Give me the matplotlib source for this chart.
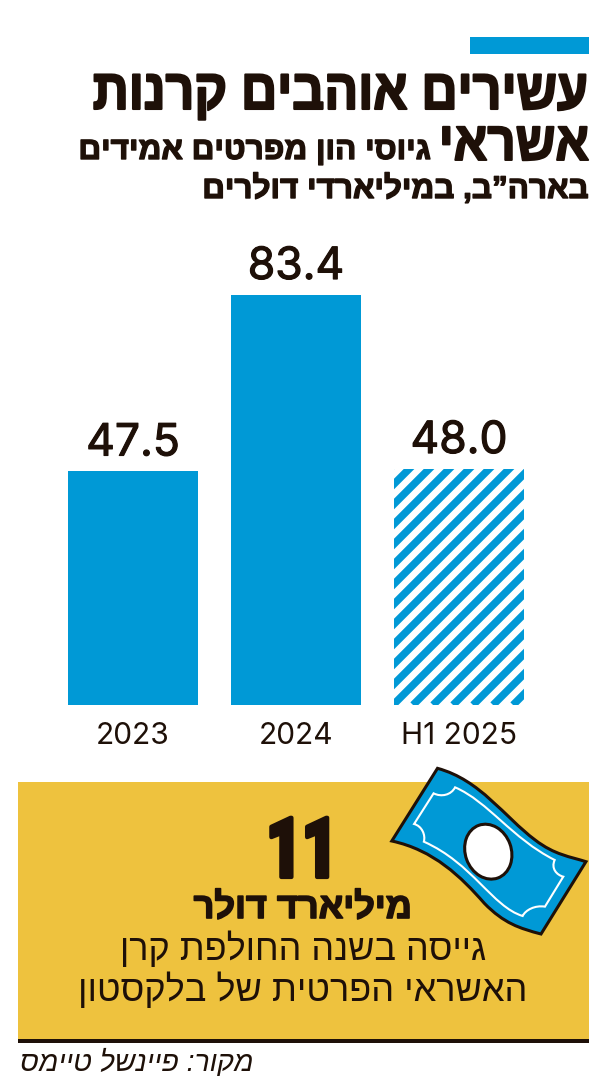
import matplotlib
matplotlib.use("Agg")
import numpy as np
import matplotlib.pyplot as plt
import matplotlib.patheffects as pe
from matplotlib.path import Path
from matplotlib.patches import PathPatch, Rectangle, Ellipse
from matplotlib.lines import Line2D
from matplotlib.transforms import IdentityTransform, Affine2D

categories = ["2023", "2024", "H1 2025"]
values = [47.5, 83.4, 48.0]
projected = [False, False, True]

title_1 = "עשירים אוהבים קרנות"
title_2 = "אשראי"
subtitle_1 = "גיוסי הון מפרטים אמידים"
subtitle_2 = "בארה”ב, במיליארדי דולרים"
big_number = "11"
big_unit = "מיליארד דולר"
note_1 = "גייסה בשנה החולפת קרן"
note_2 = "האשראי הפרטית של בלקסטון"
source = "מקור: פיינשל טיימס"

BLUE = "#0099D6"
YELLOW = "#EEC23E"
DARK = "#1E1008"
HEB = ["Liberation Sans", "DejaVu Sans"]
W, H = 613, 1089

fig = plt.figure(figsize=(W / 100, H / 100), dpi=100, facecolor="white")
px = fig.add_axes([0, 0, 1, 1])
px.set_xlim(0, W)
px.set_ylim(H, 0)
px.axis("off")


class Squeeze(pe.AbstractPathEffect):
    """Narrow glyphs horizontally about a pixel column and thicken them."""

    def __init__(self, cx, sx, lw):
        super().__init__()
        self.cx, self.sx, self.lw = cx, sx, lw

    def draw_path(self, renderer, gc, tpath, affine, rgbFace=None):
        a = affine + Affine2D().translate(-self.cx, 0).scale(self.sx, 1).translate(self.cx, 0)
        g = renderer.new_gc()
        g.copy_properties(gc)
        g.set_linewidth(self.lw)
        g.set_foreground(DARK)
        renderer.draw_path(g, tpath, a, rgbFace)
        g.restore()


def rtl(s):
    return s[::-1]


def heb(s, x, y, width, ha="right", bold=False, stroke=0.0, style="normal", sx=1.0):
    t = px.text(x, y, rtl(s), family=HEB, ha=ha, va="baseline", color=DARK,
                fontweight="bold" if bold else "normal", fontsize=20, fontstyle=style)
    r = fig.canvas.get_renderer()
    w = t.get_window_extent(r).width
    t.set_fontsize(20 * width / (w * sx))
    if stroke or sx != 1.0:
        t.set_path_effects([Squeeze(x, sx, stroke)])
    return t


# header
px.add_patch(Rectangle((470, 37), 119, 17, fc=BLUE, lw=0))
heb(title_1, 589, 109, 495, bold=True, stroke=1.5, sx=0.88)
heb(title_2, 589, 160, 150, bold=True, stroke=1.4, sx=0.9)
heb(subtitle_1, 430, 159, 352, bold=True, stroke=1.0)
heb(subtitle_2, 589, 198, 386, bold=True, stroke=1.0)

# callout panel
px.add_patch(Rectangle((18, 782), 571, 258, fc=YELLOW, lw=0))
px.add_patch(Rectangle((18, 1039), 571, 3.5, fc=DARK, lw=0))
px.text(302, 877, big_number, family=["Roboto"],
        fontweight="black", fontsize=60, ha="center", va="baseline", color=DARK,
        path_effects=[Squeeze(302, 0.74, 3.0)])
heb(big_unit, 303, 918, 218, ha="center", bold=True, stroke=1.2)
heb(note_1, 303, 960, 367, ha="center")
heb(note_2, 303, 1001, 449, ha="center")
heb(source, 253, 1071, 234, style="italic")


# banknote, drawn in the reference zoom's coordinates
def z(x, y):
    return (x / 2.56, 760 + y / 3)


def curve(points, closed=True):
    verts = [z(*points[0])]
    codes = [Path.MOVETO]
    for p in points[1:]:
        verts.append(z(*p[:2]))
        codes.append(Path.CURVE4 if len(p) == 3 else Path.LINETO)
    if closed:
        verts.append(verts[0])
        codes.append(Path.CLOSEPOLY)
    return Path(verts, codes)


c = 1
note_outline = curve([
    (1120, 25), (1230, 60, c), (1290, 170, c), (1370, 240, c),
    (1420, 285, c), (1460, 290, c), (1500, 305, c),
    (1385, 522),
    (1330, 505, c), (1290, 490, c), (1240, 430, c),
    (1180, 350, c), (1110, 270, c), (1003, 243, c),
])
px.add_patch(PathPatch(note_outline, fc=BLUE, ec=DARK, lw=2.2, joinstyle="miter", zorder=5))
inner = curve([
    (1165, 82), (1250, 125, c), (1310, 235, c), (1420, 300, c),
    (1410, 325, c), (1425, 345, c), (1442, 350, c),
    (1395, 440),
    (1370, 435, c), (1345, 450, c), (1338, 468, c),
    (1260, 440, c), (1210, 310, c), (1085, 245, c),
    (1090, 225, c), (1080, 198, c), (1060, 192, c),
    (1110, 100),
    (1130, 112, c), (1155, 105, c), (1165, 82, c),
])
px.add_patch(PathPatch(inner, fc="none", ec="white", lw=1.5, zorder=6))
px.add_patch(Ellipse(z(1250, 275), 46, 56, angle=-20, fc="white", ec=DARK, lw=2.2, zorder=7))

# bars
BASE_Y, TOP_Y = 705, 230
PX_PER_UNIT = 410 / 83.4
SPACING, LEFT_C = 163, 133
ax = fig.add_axes([0, 1 - BASE_Y / H, 1, (BASE_Y - TOP_Y) / H])
ax.patch.set_alpha(0)
ax.set_xlim(-LEFT_C / SPACING, (W - LEFT_C) / SPACING)
ax.set_ylim(0, (BASE_Y - TOP_Y) / PX_PER_UNIT)
for s in ax.spines.values():
    s.set_visible(False)
ax.set_yticks([])
xs = np.arange(len(values))
ax.set_xticks(xs, categories, family="Inter", fontsize=21.5, color=DARK)
ax.tick_params(axis="x", length=0, pad=12)
bars = ax.bar(xs, values, width=130 / SPACING,
              color=["white" if p else BLUE for p in projected], linewidth=0)

for x, v, p, b in zip(xs, values, projected, bars):
    ax.annotate(f"{v:.1f}", (x, v), xytext=(0, 11.5), textcoords="offset points",
                ha="center", va="baseline", family="Inter", fontsize=32, color=DARK,
                path_effects=[pe.withStroke(linewidth=0.8, foreground=DARK)])
    if p:
        e = b.get_window_extent()
        h = e.height
        start = e.x0 + 15 - 20 * (int(h / 20) + 1)
        for cx in np.arange(start, e.x1 + h + 20, 20):
            ln = Line2D([cx - h, cx + h], [e.y1 - h, e.y1 + h], color=BLUE, lw=5.4,
                        solid_capstyle="butt", transform=IdentityTransform())
            ax.add_line(ln)
            ln.set_clip_path(b)

fig.savefig("out.png", dpi=100, facecolor="white")
